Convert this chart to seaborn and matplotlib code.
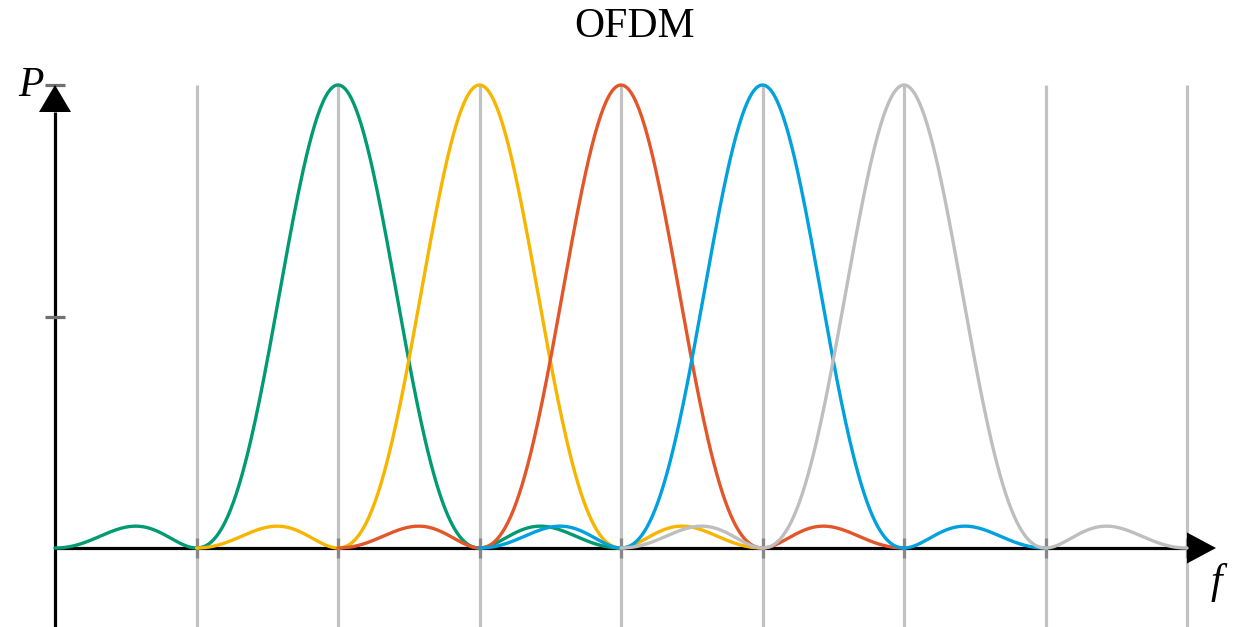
import numpy as np
import pandas as pd
import matplotlib
matplotlib.use("Agg")
import matplotlib.pyplot as plt
import seaborn as sns

# ---- data ----
carriers = ["c1", "c2", "c3", "c4", "c5"]
centers = [2, 3, 4, 5, 6]          # subcarrier centre frequencies
peak = 1.0                          # peak power
half_span = 2                       # each subcarrier drawn over centre +/- 2
colors = ["#009B72", "#F7B500", "#E2562A", "#00A1DE", "#BEBEBE"]
grid_x = [1, 2, 3, 4, 5, 6, 7, 8]
y_ticks = [0.5, 1.0]
title = "OFDM"
x_label = "f"
y_label = "P"

rows = []
for name, c in zip(carriers, centers):
    x = np.linspace(c - half_span, c + half_span, 400)
    y = peak * np.sinc(x - c) ** 2
    rows.append(pd.DataFrame({"f": x, "P": y, "carrier": name}))
df = pd.concat(rows, ignore_index=True)

sns.set_theme(style="white")
plt.rcParams["font.family"] = ["Liberation Serif", "DejaVu Serif"]
plt.rcParams["text.color"] = "black"

W, H = 1245, 627
fig = plt.figure(figsize=(W / 100, H / 100), dpi=100)
ax = fig.add_axes([0, 0, 1, 1])

px_x = 141.5   # pixels per x unit
px_y = 463.0   # pixels per y unit
x0_px, y0_px = 55, 548
ax.set_xlim(-x0_px / px_x, (W - x0_px) / px_x)
ax.set_ylim(-(H - y0_px) / px_y, y0_px / px_y)
ax.axis("off")

ylo = ax.get_ylim()[0]
grid_col = "#C2C2C2"
# vertical grid lines
for gx in grid_x:
    ax.plot([gx, gx], [ylo, 1.0], color=grid_col, lw=2.3, zorder=1,
            solid_capstyle="butt")

# x axis
ax.plot([0, 8], [0, 0], color="black", lw=2.3, zorder=2, solid_capstyle="butt")
# y axis
ax.plot([0, 0], [ylo, 1 - 27 / px_y], color="black", lw=2.3, zorder=2,
        solid_capstyle="butt")

# x ticks
for gx in grid_x:
    ax.plot([gx, gx], [-10 / px_y, 10 / px_y], color="#888888", lw=2.3,
            zorder=3, solid_capstyle="butt")
# y ticks
for ty in y_ticks:
    ax.plot([-10 / px_x, 10 / px_x], [ty, ty], color="#707070", lw=2.3,
            zorder=3, solid_capstyle="butt")

# arrow heads
ax.fill([0, -16 / px_x, 16 / px_x], [1.0, 1 - 27 / px_y, 1 - 27 / px_y],
        color="black", zorder=4, lw=0)
ax.fill([8 + 29 / px_x, 8, 8], [0, 15.5 / px_y, -15.5 / px_y],
        color="black", zorder=4, lw=0)

# curves
sns.lineplot(data=df, x="f", y="P", hue="carrier", palette=colors,
             hue_order=carriers, sort=False, estimator=None, lw=2.4,
             legend=False, ax=ax, zorder=5)
for i, line in enumerate(ax.lines[-len(carriers):]):
    line.set_zorder(5 + i)

# texts
ax.text((635 - x0_px) / px_x, (y0_px - 27) / px_y, title, ha="center",
        va="center", fontsize=30, color="black")
ax.text(-24 / px_x, (y0_px - 86) / px_y, y_label, ha="center", va="center",
        fontsize=30, style="italic", color="black")
ax.text((1216 - x0_px) / px_x, (y0_px - 583) / px_y, x_label, ha="center",
        va="center", fontsize=30, style="italic", color="black")

fig.savefig("out.png", dpi=100)
